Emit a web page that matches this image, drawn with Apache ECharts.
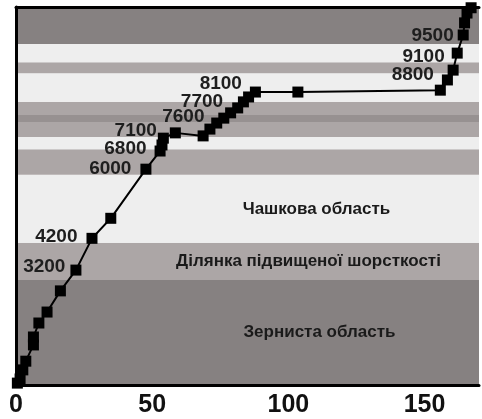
<!DOCTYPE html>
<html><head><meta charset="utf-8">
<script src="https://cdn.jsdelivr.net/npm/echarts@6/dist/echarts.min.js"></script>
<style>html,body{margin:0;padding:0;background:#fff}#c{width:482px;height:419px}</style>
</head><body><div id="c"></div>
<script>
// measured points (x: horizontal scale, y: relative height 0..100)
const xValues = [0.5,1.5,2.5,3.6,6.4,6.4,8.4,11.4,16.3,22.0,27.9,34.8,47.7,52.9,53.6,54.1,58.5,68.7,71.2,73.7,76.3,78.8,81.4,83.5,85.4,87.9,103.5,155.8,158.4,160.5,162.0,164.2,164.7,165.6,167.1];
const yValues = [0.5,1.6,4.0,6.3,10.6,12.7,16.4,19.3,24.9,30.4,38.8,44.1,57.1,61.9,63.5,65.3,66.7,65.9,67.7,69.3,70.6,72.0,73.3,74.9,76.2,77.5,77.5,78.0,80.7,83.3,87.8,92.6,95.8,98.4,99.8];
const pointLabels = ['','','','','','','','','','3200','4200','','6000','6800','','7100','7600','','','','','7700','','','','8100','','','8800','','9100','9500','','',''];

// background bands
const bandBottoms = [0, 27.8, 37.6, 55.6, 62.4, 65.6, 69.6, 71.4, 74.9, 82.5, 85.4, 90.2];
const bandTops    = [27.8, 37.6, 55.6, 62.4, 65.6, 69.6, 71.4, 74.9, 82.5, 85.4, 90.2, 100];
const bandShades  = ['#868181','#aca6a6','#eeeeee','#aca6a6','#eeeeee','#aca6a6','#979191','#aca6a6','#eeeeee','#aca6a6','#eeeeee','#868181'];
const bandNames   = ['Зерниста область','Ділянка підвищеної шорсткості','Чашкова область','','','','','','','','',''];

const xTickValues = [0, 50, 100, 150];

// label placement (style only)
const labelPlace = {
  9:['left',5,0,-3], 10:['left',9,0,-2], 12:['left',9,0,0], 13:['left',8,0,-2],
  15:['left',1,0,-7], 16:['top',1,8,0], 21:['left',2,0,-11], 25:['left',8,0,-8],
  28:['left',8,0,-5], 30:['left',7,0,4], 31:['left',4,0,1]
};
const bandLabelShift = { 0: 72, 1: 61, 2: 69 };

const FONT = 'Liberation Sans, Arial, sans-serif';

const seriesData = xValues.map((x, i) => {
  const item = { value: [x, yValues[i]] };
  if (pointLabels[i]) {
    const p = labelPlace[i];
    item.label = {
      show: true, formatter: pointLabels[i], position: p[0], distance: p[1], offset: [p[2], p[3]],
      fontSize: 19, fontWeight: 'bold', color: '#1e1e1e', fontFamily: FONT
    };
  }
  return item;
});

const areas = bandBottoms.map((b, i) => {
  const first = { yAxis: b, itemStyle: { color: bandShades[i] } };
  if (bandNames[i]) {
    first.name = bandNames[i];
    first.label = { show: true, position: 'inside', offset: [bandLabelShift[i], 0], fontSize: 17, fontWeight: 'bold', color: '#1a1a1a', fontFamily: FONT };
  } else {
    first.label = { show: false };
  }
  return [first, { yAxis: bandTops[i] }];
});

const chart = echarts.init(document.getElementById('c'), null, { renderer: 'canvas' });
chart.setOption({
  animation: false,
  backgroundColor: '#ffffff',
  grid: { left: 16, right: -2, top: 7, bottom: 34, show: false },
  xAxis: [{
    type: 'value', min: 0, max: 170, interval: 50, z: 10,
    axisLine: { show: true, onZero: false, lineStyle: { color: '#000', width: 3 } },
    axisTick: { show: false }, splitLine: { show: false },
    axisLabel: {
      margin: 8, fontSize: 25, fontWeight: 'bold', color: '#111', fontFamily: FONT,
      formatter: v => xTickValues.includes(v) ? String(v) : ''
    }
  }, {
    type: 'value', position: 'top', min: 0, max: 170, z: 10,
    axisLine: { show: true, onZero: false, lineStyle: { color: '#000', width: 3 } },
    axisTick: { show: false }, splitLine: { show: false }, axisLabel: { show: false }
  }],
  yAxis: {
    type: 'value', min: 0, max: 100, z: 10,
    axisLine: { show: true, onZero: false, lineStyle: { color: '#000', width: 3 } },
    axisTick: { show: false }, splitLine: { show: false }, axisLabel: { show: false }
  },
  series: [{
    type: 'line', clip: false,
    data: seriesData,
    symbol: 'rect', symbolSize: 11, showAllSymbol: true,
    lineStyle: { color: '#000', width: 2 },
    itemStyle: { color: '#000' },
    z: 5,
    markArea: { silent: true, z: 1, data: areas }
  }]
});
</script></body></html>
